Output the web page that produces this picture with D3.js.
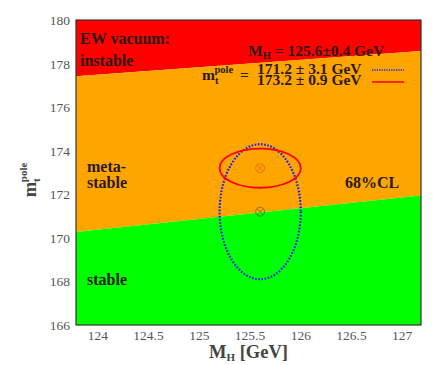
<!DOCTYPE html>
<html>
<head>
<meta charset="utf-8">
<script src="https://cdn.jsdelivr.net/npm/d3@7"></script>
<style>
body { margin: 0; background: #fff; }
text { font-family: "Liberation Serif", "DejaVu Serif", serif; }
</style>
</head>
<body>
<script>
// datos del grafico
var xTicks = [124, 124.5, 125, 125.5, 126, 126.5, 127];
var yTicks = [166, 168, 170, 172, 174, 176, 178, 180];
// fronteras de las regiones en los bordes del eje x
var bordeX = [123.785, 127.185];
var fronteraInestable = [177.42, 178.58];
var fronteraEstable = [170.27, 171.95];
// elipses 68%CL
var mH = 125.6, dmH = 0.4;
var mtValores = [171.2, 173.2];
var mtErrores = [3.1, 0.9];

var ancho = 447, alto = 365;
var margen = {left: 76, right: 26, top: 20, bottom: 40};

var svg = d3.select("body")
  .append("svg")
  .attr("width", ancho)
  .attr("height", alto);

var escalaX = d3.scaleLinear()
  .domain(bordeX)
  .range([margen.left, ancho - margen.right]);

var escalaY = d3.scaleLinear()
  .domain([166, 180])
  .range([alto - margen.bottom, margen.top]);

// regiones de colores
function poligono(arriba, abajo) {
  return [
    [escalaX(bordeX[0]), arriba[0]], [escalaX(bordeX[1]), arriba[1]],
    [escalaX(bordeX[1]), abajo[1]], [escalaX(bordeX[0]), abajo[0]]
  ];
}
var yTop = [escalaY(180), escalaY(180)];
var yBot = [escalaY(166), escalaY(166)];
var yIns = fronteraInestable.map(escalaY);
var yEst = fronteraEstable.map(escalaY);

var regiones = [
  {pts: poligono(yTop, yIns), color: "#ff0000"},
  {pts: poligono(yIns, yEst), color: "#ffa500"},
  {pts: poligono(yEst, yBot), color: "#00ff00"}
];
svg.selectAll("polygon.region")
  .data(regiones)
  .enter()
  .append("polygon")
  .attr("class", "region")
  .attr("points", function(d){ return d.pts.map(function(p){ return p.join(","); }).join(" "); })
  .attr("fill", function(d){ return d.color; });

// elipses
var estilos = [
  {stroke: "#1a1aff", dash: "1.6,1.6", marca: "#3a5a3a"},
  {stroke: "#ff0000", dash: null, marca: "#e85020"}
];
mtValores.forEach(function(mt, i){
  var cx = escalaX(mH), cy = escalaY(mt);
  var rx = escalaX(mH + dmH) - cx;
  var ry = cy - escalaY(mt + mtErrores[i]);
  svg.append("ellipse")
    .attr("cx", cx).attr("cy", cy)
    .attr("rx", rx).attr("ry", ry)
    .attr("fill", "none")
    .attr("stroke", estilos[i].stroke)
    .attr("stroke-width", i == 0 ? 2.2 : 1.8)
    .attr("stroke-dasharray", estilos[i].dash);
  // marca ⊗
  var g = svg.append("g").attr("opacity", 0.6)
    .attr("stroke", estilos[i].marca).attr("fill", "none").attr("stroke-width", 1);
  g.append("circle").attr("cx", cx).attr("cy", cy).attr("r", 4.5);
  g.append("line").attr("x1", cx - 3.2).attr("y1", cy - 3.2).attr("x2", cx + 3.2).attr("y2", cy + 3.2);
  g.append("line").attr("x1", cx - 3.2).attr("y1", cy + 3.2).attr("x2", cx + 3.2).attr("y2", cy - 3.2);
});

// marco
svg.append("rect")
  .attr("x", escalaX.range()[0])
  .attr("y", margen.top)
  .attr("width", escalaX.range()[1] - escalaX.range()[0])
  .attr("height", escalaY(166) - margen.top)
  .attr("fill", "none")
  .attr("stroke", "#333")
  .attr("stroke-width", 1.2);

// etiquetas de los ejes
svg.selectAll("text.xtick")
  .data(xTicks)
  .enter()
  .append("text")
  .attr("class", "xtick")
  .attr("x", function(d){ return escalaX(d); })
  .attr("y", alto - margen.bottom + 15)
  .attr("text-anchor", "middle")
  .attr("font-size", 13.5)
  .attr("fill", "#555")
  .text(function(d){ return d; });

svg.selectAll("text.ytick")
  .data(yTicks)
  .enter()
  .append("text")
  .attr("class", "ytick")
  .attr("x", margen.left - 6)
  .attr("y", function(d){ return escalaY(d) + 5; })
  .attr("text-anchor", "end")
  .attr("font-size", 13.5)
  .attr("fill", "#555")
  .text(function(d){ return d; });

// titulo eje x
var tx = svg.append("text")
  .attr("x", (escalaX.range()[0] + escalaX.range()[1]) / 2)
  .attr("y", 358)
  .attr("text-anchor", "middle")
  .attr("font-size", 18.5)
  .attr("font-weight", "bold")
  .attr("fill", "#444");
tx.append("tspan").text("M");
tx.append("tspan").attr("font-size", 11).attr("dy", 3).text("H");
tx.append("tspan").attr("dy", -3).text(" [GeV]");

// titulo eje y
var ty = svg.append("text")
  .attr("transform", "translate(36,180) rotate(-90)")
  .attr("text-anchor", "middle")
  .attr("font-size", 18.5)
  .attr("font-weight", "bold")
  .attr("fill", "#444");
ty.append("tspan").text("m");
ty.append("tspan").attr("font-size", 11).attr("dy", 4).text("t");
ty.append("tspan").attr("font-size", 11).attr("dx", -4).attr("dy", -13).text("pole");

// textos dentro del grafico
var textos = [
  {t: "EW vacuum:", x: 80, y: 44},
  {t: "instable", x: 80, y: 66},
  {t: "meta-", x: 87, y: 172},
  {t: "stable", x: 87, y: 188},
  {t: "68%CL", x: 345, y: 188},
  {t: "stable", x: 87, y: 285}
];
svg.selectAll("text.etiqueta")
  .data(textos)
  .enter()
  .append("text")
  .attr("class", "etiqueta")
  .attr("x", function(d){ return d.x; })
  .attr("y", function(d){ return d.y; })
  .attr("font-size", 16)
  .attr("font-weight", "bold")
  .attr("fill", "#2a1a10")
  .text(function(d){ return d.t; });

// leyenda
var leyenda = svg.append("g")
  .attr("font-size", 15.5)
  .attr("font-weight", "bold")
  .attr("fill", "#2a1a10");
var l1 = leyenda.append("text").attr("x", 248).attr("y", 56);
l1.append("tspan").text("M");
l1.append("tspan").attr("font-size", 10.5).attr("dy", 3).text("H");
l1.append("tspan").attr("dy", -3).text(" = " + mH + "\u00b1" + dmH + " GeV");

var l2 = leyenda.append("text").attr("x", 202).attr("y", 80);
l2.append("tspan").text("m");
l2.append("tspan").attr("font-size", 10.5).attr("dy", 4).text("t");
l2.append("tspan").attr("font-size", 10.5).attr("dx", -4).attr("dy", -11).text("pole");
l2.append("tspan").attr("dx", 3).attr("dy", 7).text(" =");

mtValores.forEach(function(mt, i){
  leyenda.append("text")
    .attr("x", 257)
    .attr("y", 73.5 + i * 11)
    .text(mt.toFixed(1) + " \u00b1 " + mtErrores[i].toFixed(1) + " GeV");
  svg.append("line")
    .attr("x1", 372).attr("x2", 404)
    .attr("y1", 70 + i * 12).attr("y2", 70 + i * 12)
    .attr("stroke", estilos[i].stroke)
    .attr("stroke-width", 1.5)
    .attr("stroke-dasharray", i == 0 ? "1.2,1.2" : null);
});
</script>
</body>
</html>
